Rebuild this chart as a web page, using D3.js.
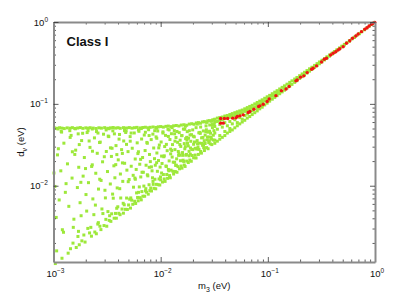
<!DOCTYPE html>
<html>
<head>
<meta charset="utf-8">
<script src="https://cdn.jsdelivr.net/npm/d3@7"></script>
<style>
  body { margin: 0; background: #fff; }
  svg text { font-family: "Liberation Sans", Arial, Helvetica, sans-serif; fill: #111; }
  .frame .domain { stroke: #8a8a8a; stroke-width: 2px; }
  .frame line { stroke: #333; stroke-width: 0.8px; }
  .minor .domain { display: none; }
</style>
</head>
<body>
<svg id="chart" width="415" height="296"></svg>
<script>
// tick labels (10^exp)
var xMajor = [0.001, 0.01, 0.1, 1];
var xExp = ["\u22123", "\u22122", "\u22121", "0"];
var yMajor = [0.01, 0.1, 1];
var yExp = ["\u22122", "\u22121", "0"];

// scan points along the upper edge, d ~ 0.05 eV: [m3, d_nu]
var edgePoints = [
  [0.00102,0.0508],[0.00108,0.0503],[0.00114,0.0511],[0.0012,0.0505],[0.00126,0.0499],[0.00134,0.0509],[0.00142,0.0504],
  [0.0015,0.0512],[0.00158,0.0501],[0.00168,0.0507],[0.00178,0.0513],[0.00188,0.0502],[0.002,0.0509],[0.0021,0.0504],
  [0.0022,0.0511],[0.00235,0.0506],[0.0025,0.05],[0.00265,0.051],[0.0028,0.0505],[0.003,0.0512],[0.0032,0.0503],
  [0.0034,0.0509],[0.0036,0.0514],[0.0038,0.0506],[0.004,0.0511],[0.0042,0.0503],[0.0045,0.0512],[0.0048,0.0507],
  [0.0051,0.0513],[0.0054,0.0505],[0.0057,0.0511],[0.006,0.0516],[0.0064,0.0508],[0.0068,0.0514],[0.0072,0.0518],
  [0.0076,0.051],[0.008,0.0517],[0.0085,0.0522],[0.009,0.0515],[0.0095,0.0524],[0.01,0.0528],[0.0106,0.052],
  [0.0112,0.0531],[0.0118,0.0535],[0.0125,0.0527],[0.0132,0.0539],[0.014,0.0544],[0.0148,0.0536],[0.0156,0.0551],
  [0.0165,0.0556],[0.0175,0.0548],[0.0185,0.0566],[0.0195,0.0572],[0.0205,0.0563],[0.0215,0.0584],[0.0225,0.059],
  [0.0235,0.058],[0.0245,0.0601],[0.0255,0.0607],[0.0265,0.0598],[0.0275,0.0619],[0.0285,0.0624],[0.0295,0.0615],
  [0.0305,0.0636],[0.0315,0.0641],
  [0.0011,0.0494],[0.0016,0.0496],[0.0023,0.0493],[0.0033,0.0497],[0.0046,0.0495],[0.0066,0.0499],[0.0092,0.0503],
  [0.0128,0.0512],[0.017,0.0532],[0.022,0.0566],[0.027,0.0595],[0.03,0.0615],
  [0.00118,0.046],[0.00142,0.047],[0.0017,0.043],[0.0021,0.047],[0.0026,0.044],[0.0031,0.048],[0.0037,0.043],
  [0.0046,0.047],[0.0053,0.044],[0.0062,0.048],[0.0072,0.045],[0.0088,0.047],[0.0105,0.044],[0.012,0.048],
  [0.0142,0.046],[0.0168,0.049],[0.0185,0.047]
];

// scan points close to d = m3
var diagPoints = [
  [0.00152,0.00199],[0.00163,0.00176],[0.00171,0.00277],[0.00184,0.00212],[0.00197,0.00205],[0.00209,0.00301],
  [0.00217,0.00265],[0.00226,0.00242],[0.00238,0.00443],[0.00243,0.00272],[0.00251,0.00259],[0.00262,0.00354],
  [0.00271,0.0032],[0.00277,0.00291],[0.00289,0.00457],[0.00296,0.00326],[0.00308,0.00388],[0.00314,0.0032],
  [0.00322,0.00483],[0.00331,0.00377],[0.00343,0.00367],[0.00349,0.00454],[0.00361,0.00704],[0.00368,0.00401],
  [0.00379,0.00459],[0.00386,0.00401],[0.00398,0.00553],[0.00407,0.0046],[0.00418,0.00443],[0.00424,0.00708],
  [0.00436,0.00519],[0.00449,0.00462],[0.00457,0.00585],[0.00468,0.00515],[0.00481,0.00707],[0.00489,0.00513],
  [0.00502,0.00582],[0.00514,0.00684],[0.00523,0.00533],[0.00537,0.00666],[0.00549,0.00593],[0.00558,0.0096],
  [0.00572,0.00646],[0.00584,0.00607],[0.00596,0.00817],[0.00609,0.00719],[0.00617,0.00654],[0.00632,0.00967],
  [0.00644,0.00715],[0.00659,0.00672],[0.00668,0.00848],[0.00683,0.00744],[0.00697,0.0099],[0.00709,0.00744],
  [0.00722,0.00866],[0.00738,0.00834],[0.00751,0.0136],[0.00766,0.00789],[0.00779,0.01028],[0.00793,0.00872],
  [0.00808,0.00937],[0.00821,0.00862],[0.00839,0.0125],[0.00852,0.0104],[0.00868,0.00929],[0.00884,0.012],
  [0.00899,0.00917],[0.00913,0.0104],[0.00932,0.015],[0.00947,0.0103],[0.00966,0.0121],[0.00981,0.0102],
  [0.01,0.0118],[0.0102,0.0143],[0.0104,0.0111],[0.0106,0.0137],[0.0108,0.0121],[0.011,0.0113],[0.0112,0.0174],
  [0.0114,0.0137],[0.0116,0.0123],[0.0118,0.0158],[0.0121,0.0133],[0.0123,0.0125],[0.0125,0.0155],[0.0128,0.0224],
  [0.013,0.015],[0.0132,0.0139],[0.0135,0.0193],[0.0137,0.0149],[0.014,0.0178],[0.0142,0.0146],[0.0145,0.0171],
  [0.0147,0.0235],[0.015,0.0161],[0.0153,0.0202],[0.0155,0.0174],[0.0158,0.0164],[0.0161,0.0235],[0.0164,0.0198],
  [0.0166,0.0179],[0.0169,0.0172],[0.0172,0.0236],[0.0175,0.02],[0.0178,0.0329],[0.0181,0.0192],[0.0184,0.0232],
  [0.0187,0.0206],[0.019,0.0289],[0.0193,0.0199],[0.0197,0.0234],[0.02,0.0276],[0.0203,0.0219],[0.0207,0.0342],
  [0.021,0.0237],[0.0214,0.0218],[0.0217,0.028],[0.0221,0.0327],[0.0225,0.0241],[0.0228,0.0278],[0.0232,0.0448],
  [0.0236,0.0262],[0.024,0.025],[0.0244,0.0329],[0.0248,0.0389],[0.0252,0.0292],[0.0256,0.0269],[0.026,0.0328],
  [0.0264,0.0459],[0.0268,0.0292],[0.0273,0.0393],[0.0277,0.0283],[0.0281,0.0337],[0.0286,0.0463],[0.029,0.0325],
  [0.0295,0.0392],[0.03,0.0318],[0.0304,0.0559],[0.0309,0.0362],[0.0314,0.0471],
  [0.00107,0.0016],[0.00124,0.0027],[0.00137,0.0015],[0.00153,0.0031],[0.00169,0.0024],[0.00181,0.0043],
  [0.00192,0.0025],[0.00204,0.0049],[0.00223,0.0031],[0.00246,0.0058],[0.00259,0.0034],[0.00283,0.0052],
  [0.00305,0.0071],[0.00334,0.0043],[0.00356,0.0079],[0.00389,0.0053],[0.00415,0.0092],[0.00447,0.0061],
  [0.00498,0.0112],[0.00526,0.0071],[0.00575,0.0124],[0.00621,0.0083],[0.0067,0.0146],[0.00727,0.0092],
  [0.00782,0.0168],[0.00848,0.0113],[0.00917,0.0191],[0.00996,0.0128],[0.0108,0.0232],[0.0119,0.0152],
  [0.0127,0.0269],[0.0138,0.0177],[0.0151,0.0318],[0.0162,0.0205],[0.0176,0.0361],[0.0189,0.0243],
  [0.0202,0.0402],[0.0218,0.0285],[0.0234,0.0436],[0.0251,0.0317],[0.0267,0.0482],[0.0284,0.0355],
  [0.00104,0.00112],[0.0012,0.0013],[0.00144,0.0017],[0.00174,0.0019]
];

// scattered scan points inside the triangle
var innerPoints = [
  [0.00103,0.0098],[0.00106,0.0041],[0.00109,0.0238],[0.00113,0.0067],[0.00117,0.0152],[0.00121,0.0029],
  [0.00125,0.0331],[0.00129,0.0083],[0.00135,0.0185],[0.00139,0.0056],[0.00146,0.0412],[0.00149,0.0124],
  [0.00155,0.0039],[0.00161,0.0272],[0.00167,0.0095],[0.00172,0.0168],[0.00177,0.0062],[0.00183,0.0356],
  [0.00189,0.0131],[0.00194,0.0221],[0.00201,0.0078],[0.00206,0.0446],[0.00212,0.0109],[0.00219,0.0294],
  [0.00227,0.0172],[0.00233,0.0069],[0.00241,0.0384],[0.00248,0.0142],[0.00256,0.0249],[0.00263,0.0091],
  [0.00269,0.0337],[0.00278,0.0116],[0.00287,0.0196],[0.00293,0.0426],[0.00302,0.0088],[0.00311,0.0262],
  [0.00319,0.0149],[0.00328,0.0398],[0.00339,0.0105],[0.00347,0.0228],[0.00358,0.0468],[0.00366,0.0175],
  [0.00374,0.0125],[0.00383,0.0309],[0.00393,0.0094],[0.00402,0.0207],[0.00413,0.0423],[0.00421,0.0139],
  [0.00432,0.0276],[0.00443,0.0113],[0.00452,0.0352],[0.00461,0.0188],[0.00472,0.0447],[0.00484,0.0155],
  [0.00496,0.0261],[0.00508,0.0119],[0.00519,0.0398],[0.00531,0.0173],[0.00543,0.0287],[0.00554,0.0134],
  [0.00567,0.0441],[0.00579,0.0212],[0.00591,0.0158],[0.00604,0.0334],[0.00613,0.0247],[0.00627,0.0462],
  [0.00638,0.0183],[0.00652,0.0128],[0.00664,0.0372],[0.00678,0.0221],[0.00689,0.0146],[0.00703,0.0416],
  [0.00716,0.0269],[0.00731,0.0178],[0.00744,0.0338],[0.00759,0.0132],[0.00772,0.0483],[0.00787,0.0241],
  [0.00801,0.0197],[0.00816,0.0366],[0.00831,0.0152],[0.00846,0.0427],[0.00861,0.0289],[0.00876,0.0214],
  [0.00891,0.0178],[0.00906,0.0395],[0.00922,0.0251],[0.00939,0.0466],[0.00954,0.0203],[0.00972,0.0314],
  [0.00988,0.0169],
  [0.0101,0.0342],[0.0103,0.0187],[0.0105,0.0455],[0.0107,0.0226],[0.0109,0.0301],[0.0111,0.0412],
  [0.0113,0.0172],[0.0115,0.0268],[0.0117,0.0489],[0.012,0.0201],[0.0122,0.0367],[0.0124,0.0245],
  [0.0126,0.0432],[0.0129,0.0318],[0.0131,0.0194],[0.0134,0.0471],[0.0136,0.0276],[0.0139,0.0388],
  [0.0141,0.0213],[0.0144,0.0339],[0.0146,0.0262],[0.0149,0.0445],[0.0152,0.0236],[0.0154,0.0302],
  [0.0157,0.0409],[0.016,0.0254],[0.0163,0.0492],[0.0166,0.0327],[0.0168,0.0282],[0.0171,0.0376],
  [0.0174,0.0241],[0.0177,0.0458],[0.0181,0.0306],[0.0184,0.0263],[0.0188,0.0417],[0.0191,0.0349],
  [0.0195,0.0278],[0.0199,0.0481],[0.0203,0.0321],[0.0206,0.0395],[0.021,0.0287],[0.0214,0.0512],
  [0.0219,0.0356],[0.0223,0.0298],[0.0227,0.0443],[0.0231,0.0331],[0.0236,0.0521],[0.0241,0.0384],
  [0.0246,0.0312],[0.025,0.0467],[0.0255,0.0355],[0.026,0.0416],[0.0265,0.0538],[0.027,0.0362],
  [0.0276,0.0451],[0.0281,0.0393],[0.0287,0.0552],[0.0292,0.0438],[0.0298,0.0372],[0.0304,0.0513],
  [0.031,0.0414],[0.0316,0.0567],
  [0.00101,0.0143],[0.00111,0.0283],[0.00119,0.0452],[0.00131,0.0106],[0.00143,0.0389],[0.00158,0.0241],
  [0.00174,0.0318],[0.00187,0.0437],[0.00199,0.0162],[0.00215,0.0352],[0.00231,0.0264],[0.00252,0.0459],
  [0.00273,0.0341],[0.00298,0.0226],[0.00324,0.0404],[0.00352,0.0287],[0.00381,0.0181],[0.00409,0.0371],
  [0.00439,0.0248],[0.00476,0.0467],
  [0.0044,0.019],[0.0052,0.035],[0.0058,0.012],[0.0065,0.021],[0.0075,0.033],[0.0082,0.017],[0.0092,0.038],
  [0.0102,0.023],[0.0113,0.032],[0.0124,0.028],[0.0136,0.035],[0.0148,0.025],[0.0158,0.041],[0.017,0.03],
  [0.0182,0.038],[0.0194,0.042],[0.0062,0.026],[0.0078,0.041],[0.0096,0.029],[0.0118,0.04],[0.0135,0.043],
  [0.0152,0.036],[0.0175,0.039],[0.0048,0.032],[0.0039,0.024],[0.0034,0.029],[0.0027,0.012],[0.0023,0.018],
  [0.0018,0.011],[0.0015,0.026]
];

// narrow band for m3 > 0.032
var bandPoints = [
  [0.032,0.065],[0.032,0.06],[0.032,0.053],[0.032,0.044],[0.032,0.036],[0.032,0.033],
  [0.0338,0.067],[0.0338,0.061],[0.0338,0.049],[0.0338,0.035],
  [0.0356,0.068],[0.0356,0.063],[0.0356,0.056],[0.0356,0.041],[0.0356,0.037],
  [0.0376,0.069],[0.0376,0.064],[0.0376,0.052],[0.0376,0.039],
  [0.0397,0.071],[0.0397,0.066],[0.0397,0.059],[0.0397,0.046],[0.0397,0.041],
  [0.0419,0.072],[0.0419,0.067],[0.0419,0.054],[0.0419,0.044],
  [0.0442,0.074],[0.0442,0.069],[0.0442,0.061],[0.0442,0.05],[0.0442,0.046],
  [0.0466,0.076],[0.0466,0.07],[0.0466,0.057],[0.0466,0.048],
  [0.0492,0.078],[0.0492,0.072],[0.0492,0.064],[0.0492,0.051],
  [0.0519,0.08],[0.0519,0.074],[0.0519,0.059],[0.0519,0.054],
  [0.0547,0.082],[0.0547,0.076],[0.0547,0.068],[0.0547,0.057],
  [0.0577,0.084],[0.0577,0.078],[0.0577,0.065],[0.0577,0.06],
  [0.0609,0.087],[0.0609,0.081],[0.0609,0.072],[0.0609,0.063],
  [0.0643,0.09],[0.0643,0.083],[0.0643,0.075],[0.0643,0.067],
  [0.0678,0.093],[0.0678,0.086],[0.0678,0.079],[0.0678,0.07],
  [0.0715,0.096],[0.0715,0.089],[0.0715,0.082],[0.0715,0.074],
  [0.0755,0.1],[0.0755,0.092],[0.0755,0.078],
  [0.0796,0.104],[0.0796,0.096],[0.0796,0.088],[0.0796,0.082],
  [0.084,0.108],[0.084,0.1],[0.084,0.087],
  [0.0886,0.112],[0.0886,0.104],[0.0886,0.096],[0.0886,0.091],
  [0.0935,0.117],[0.0935,0.108],[0.0935,0.097],
  [0.0986,0.122],[0.0986,0.113],[0.0986,0.102],
  [0.104,0.127],[0.104,0.118],[0.104,0.108],
  [0.11,0.133],[0.11,0.124],[0.11,0.114],
  [0.116,0.139],[0.116,0.129],[0.116,0.12],
  [0.122,0.145],[0.122,0.135],[0.122,0.126],
  [0.129,0.152],[0.129,0.142],[0.129,0.133],
  [0.136,0.159],[0.136,0.14],
  [0.143,0.166],[0.143,0.155],[0.143,0.147],
  [0.151,0.174],[0.151,0.156],
  [0.16,0.183],[0.16,0.172],[0.16,0.165],
  [0.168,0.191],[0.168,0.173],
  [0.178,0.201],[0.178,0.189],[0.178,0.183],
  [0.187,0.21],[0.187,0.192],[0.198,0.221],[0.198,0.204],[0.209,0.232],[0.209,0.215],
  [0.22,0.243],[0.22,0.226],[0.232,0.255],[0.232,0.238],[0.245,0.268],[0.245,0.251],
  [0.258,0.28],[0.258,0.264],[0.273,0.295],[0.273,0.279],[0.288,0.31],[0.288,0.294],
  [0.303,0.325],[0.303,0.309],[0.32,0.341],[0.32,0.326],[0.338,0.358],[0.338,0.344],
  [0.356,0.376],[0.356,0.362],[0.376,0.395],[0.376,0.382],[0.397,0.416],[0.397,0.403],
  [0.418,0.436],[0.418,0.424],[0.441,0.458],[0.441,0.447],[0.466,0.482],[0.466,0.471],
  [0.491,0.507],[0.491,0.496],[0.518,0.533],[0.518,0.523],
  [0.547,0.561],[0.577,0.59],[0.577,0.582],[0.609,0.621],[0.642,0.653],[0.642,0.647],
  [0.678,0.688],[0.715,0.724],[0.715,0.719],[0.754,0.762],[0.796,0.803],[0.84,0.846],
  [0.886,0.891],[0.935,0.938],[0.986,0.988]
];

// points that pass all constraints (red)
var okPoints = [
  [0.0363,0.0662],[0.0393,0.0662],[0.0422,0.0662],[0.0363,0.0581],[0.0384,0.0581],[0.047,0.0669],[0.0505,0.0675],
  [0.0519,0.07],[0.055,0.0714],[0.059,0.0734],[0.0656,0.0783],[0.068,0.0805],[0.0741,0.0861],[0.082,0.0927],
  [0.0843,0.0946],[0.0906,0.0991],[0.0986,0.1067],[0.103,0.115],[0.119,0.126],[0.134,0.145],[0.148,0.152],
  [0.158,0.163],[0.183,0.191],[0.188,0.196],[0.202,0.212],[0.217,0.22],[0.233,0.241],[0.256,0.265],[0.265,0.272],
  [0.285,0.291],[0.317,0.325],[0.336,0.351],[0.353,0.361],[0.385,0.396],[0.407,0.415],[0.431,0.434],[0.453,0.456],
  [0.47,0.472],[0.505,0.5],[0.542,0.55],[0.582,0.591],[0.617,0.632],[0.662,0.675],[0.697,0.714],[0.748,0.762],
  [0.803,0.815],[0.843,0.852],[0.881,0.894],[0.927,0.937],[0.959,0.964],[0.995,0.99]
];

var svg = d3.select("#chart");
var margin = {left: 53.5, top: 22, right: 40, bottom: 34};
var width = 415 - margin.left - margin.right;
var height = 296 - margin.top - margin.bottom;

var g = svg.append("g")
    .attr("transform", "translate(" + margin.left + "," + margin.top + ")");

var x = d3.scaleLog().domain([0.001, 1]).range([0, width]);
var y = d3.scaleLog().domain([0.00117, 1]).range([height, 0]);

function isMajor(v) { return Math.abs(Math.log10(v) - Math.round(Math.log10(v))) < 1e-6; }
var xMinor = x.ticks().filter(function(d) { return !isMajor(d); });
var yMinor = y.ticks().filter(function(d) { return !isMajor(d); });

// scatter: all points in green, then the good ones in red
var green = edgePoints.concat(diagPoints, innerPoints, bandPoints);

g.append("g").selectAll("rect")
    .data(green)
  .enter().append("rect")
    .attr("x", function(d) { return x(d[0]) - 1.5; })
    .attr("y", function(d) { return y(d[1]) - 1.5; })
    .attr("width", 3)
    .attr("height", 3)
    .attr("fill", "#9de83a");

g.append("g").selectAll("circle")
    .data(okPoints)
  .enter().append("circle")
    .attr("cx", function(d) { return x(d[0]); })
    .attr("cy", function(d) { return y(d[1]); })
    .attr("r", 1.7)
    .attr("fill", "#f01414");

// box with inward ticks on all four sides
function frame(axis, tx, ty, ticks, size, cls) {
    g.append("g")
        .attr("class", "frame " + cls)
        .attr("transform", "translate(" + tx + "," + ty + ")")
        .call(axis.tickValues(ticks).tickSize(size).tickSizeOuter(0).tickFormat(""));
}
frame(d3.axisBottom(x), 0, height, xMinor, -2.5, "minor");
frame(d3.axisTop(x), 0, 0, xMinor, -2.5, "minor");
frame(d3.axisLeft(y), 0, 0, yMinor, -2.5, "minor");
frame(d3.axisRight(y), width, 0, yMinor, -2.5, "minor");
frame(d3.axisBottom(x), 0, height, xMajor, -5, "major");
frame(d3.axisTop(x), 0, 0, xMajor, -5, "major");
frame(d3.axisLeft(y), 0, 0, yMajor, -5, "major");
frame(d3.axisRight(y), width, 0, yMajor, -5, "major");

// tick labels
var xl = g.append("g").selectAll("text")
    .data(xMajor)
  .enter().append("text")
    .attr("x", function(d) { return x(d) + 2; })
    .attr("y", height + 14.5)
    .attr("text-anchor", "middle")
    .style("font-size", "9.5px");
xl.append("tspan").text("10");
xl.append("tspan").attr("dy", -4).style("font-size", "6.5px").text(function(d, i) { return xExp[i]; });

var yl = g.append("g").selectAll("text")
    .data(yMajor)
  .enter().append("text")
    .attr("x", -5.5)
    .attr("y", function(d) { return y(d) + 3.5; })
    .attr("text-anchor", "end")
    .style("font-size", "9.5px");
yl.append("tspan").text("10");
yl.append("tspan").attr("dy", -4).style("font-size", "6.5px").text(function(d, i) { return yExp[i]; });

// axis titles
var xt = svg.append("text")
    .attr("x", margin.left + width / 2)
    .attr("y", 289)
    .attr("text-anchor", "middle")
    .style("font-size", "9.5px");
xt.append("tspan").text("m");
xt.append("tspan").attr("dy", 2.5).style("font-size", "7px").text("3");
xt.append("tspan").attr("dy", -2.5).text(" (eV)");

var yt = svg.append("text")
    .attr("transform", "translate(24," + (margin.top + height / 2) + ") rotate(-90)")
    .attr("text-anchor", "middle")
    .style("font-size", "9.5px");
yt.append("tspan").text("d");
yt.append("tspan").attr("dy", 2.5).style("font-size", "7px").text("\u03bd");
yt.append("tspan").attr("dy", -2.5).text(" (eV)");

svg.append("text")
    .attr("x", 66.5)
    .attr("y", 46)
    .style("font-size", "13px")
    .style("font-weight", "bold")
    .text("Class I");
</script>
</body>
</html>
